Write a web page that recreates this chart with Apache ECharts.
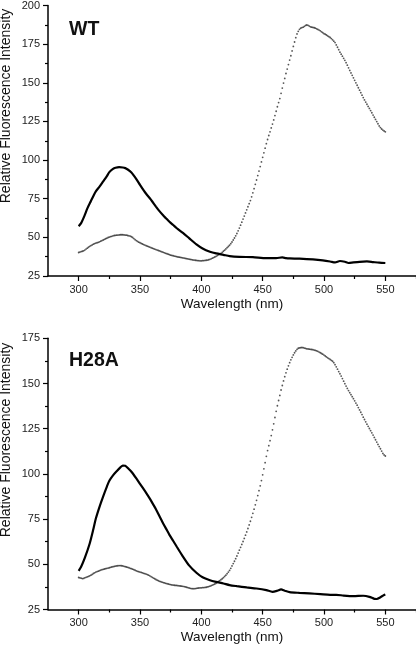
<!DOCTYPE html>
<html>
<head>
<meta charset="utf-8">
<script src="https://cdn.jsdelivr.net/npm/echarts@6/dist/echarts.min.js"></script>
<style>
html,body{margin:0;padding:0;background:#fff;}
#chart{width:416px;height:647px;}
</style>
</head>
<body>
<div id="chart"></div>
<script>
// ---- Data ----
const panelLabels = ['WT', 'H28A'];
const xTickLabels = [300, 350, 400, 450, 500, 550];
const xMinorTicks = [325, 375, 425, 475, 525, 575];
const dottedStart = 300; // wavelength of first dotted sample, 1 nm step

// WT: sparse dotted trace (1 nm samples, 300-550 nm)
const wtDotted = [
40.2,40.5,40.8,41.0,41.3,41.8,42.4,43.0,43.6,44.2,
44.7,45.1,45.6,46.0,46.3,46.5,46.8,47.1,47.5,47.9,
48.3,48.7,49.1,49.5,49.9,50.2,50.5,50.7,51.0,51.2,
51.3,51.4,51.5,51.6,51.7,51.7,51.7,51.6,51.5,51.4,
51.2,51.0,50.8,50.4,49.9,49.2,48.5,47.9,47.4,46.9,
46.5,46.1,45.7,45.3,45.0,44.6,44.3,44.0,43.7,43.3,
43.0,42.7,42.4,42.1,41.8,41.5,41.2,40.9,40.6,40.3,
40.0,39.7,39.4,39.1,38.8,38.5,38.3,38.1,37.9,37.7,
37.5,37.3,37.2,37.0,36.9,36.7,36.6,36.4,36.2,36.1,
35.9,35.7,35.6,35.4,35.3,35.2,35.1,35.0,34.9,34.8,
34.8,34.9,35.0,35.1,35.2,35.3,35.5,35.8,36.1,36.5,
36.9,37.3,37.7,38.2,38.7,39.2,39.7,40.3,41.0,41.7,
42.5,43.3,44.1,44.9,45.9,47.0,48.3,49.6,51.0,52.5,
54.2,56.0,57.9,59.8,61.8,63.8,65.8,67.8,69.8,71.8,
73.8,76.2,78.8,81.5,84.3,87.1,90.0,92.9,95.8,98.8,
101.8,104.7,107.7,110.6,113.3,115.9,118.3,120.8,123.3,126.0,
128.8,131.6,134.5,137.2,139.8,143.2,146.6,149.8,152.8,156.0,
158.9,161.8,164.7,167.5,170.6,173.5,176.4,179.2,181.6,183.3,
184.6,185.3,185.7,186.0,186.5,187.1,187.4,187.2,186.7,186.2,
186.0,185.8,185.6,185.3,184.9,184.5,184.1,183.6,183.0,182.4,
181.8,181.4,180.9,180.3,179.8,179.3,178.6,177.8,176.9,176.0,
174.5,173.0,171.4,169.8,168.5,167.2,165.8,164.5,163.0,161.4,
159.7,158.0,156.4,154.8,153.2,151.6,150.0,148.4,146.8,145.2,
143.6,142.0,140.4,138.9,137.5,136.1,134.7,133.4,132.0,130.6,
129.1,127.7,126.3,124.9,123.5,122.1,121.0,120.1,119.4,118.8,
118.3
];

// H28A: sparse dotted trace (1 nm samples, 300-550 nm)
const h28aDotted = [
42.7,42.5,42.3,42.1,42.2,42.5,42.8,43.1,43.3,43.6,
44.0,44.4,44.9,45.3,45.7,46.0,46.2,46.5,46.8,47.0,
47.2,47.4,47.6,47.8,47.9,48.1,48.3,48.5,48.7,48.8,
49.0,49.1,49.2,49.3,49.3,49.2,49.1,48.9,48.7,48.5,
48.3,48.1,47.8,47.6,47.3,47.0,46.7,46.4,46.1,45.9,
45.7,45.5,45.3,45.0,44.8,44.6,44.3,44.0,43.6,43.2,
42.8,42.4,42.0,41.6,41.2,40.9,40.6,40.4,40.1,39.9,
39.7,39.5,39.3,39.1,38.9,38.8,38.6,38.5,38.4,38.3,
38.3,38.2,38.1,38.0,37.9,37.8,37.7,37.5,37.3,37.1,
36.9,36.7,36.6,36.5,36.5,36.6,36.7,36.8,36.9,37.0,
37.0,37.1,37.1,37.2,37.3,37.5,37.7,37.9,38.2,38.5,
38.8,39.1,39.5,40.0,40.5,41.0,41.5,42.0,42.6,43.3,
44.0,44.8,45.7,46.6,47.8,49.1,50.4,51.7,53.1,54.6,
56.2,57.8,59.4,61.0,62.6,64.3,66.1,67.9,69.8,71.8,
73.8,76.0,78.2,80.5,82.9,85.4,88.0,90.7,93.4,96.3,
99.5,102.8,106.2,109.7,112.9,115.6,118.4,121.2,124.4,127.7,
131.2,134.6,137.7,140.6,143.4,146.4,148.9,151.4,153.8,155.9,
157.9,159.8,161.5,163.1,164.5,165.8,167.0,168.0,168.9,169.5,
169.7,169.8,169.9,169.8,169.6,169.4,169.2,169.1,169.0,168.9,
168.8,168.7,168.5,168.3,168.1,167.8,167.4,167.0,166.6,166.2,
165.7,165.2,164.7,164.2,163.8,163.3,162.8,162.3,161.5,160.4,
159.2,157.9,156.6,155.4,154.1,152.7,151.3,149.9,148.6,147.3,
146.1,144.9,143.8,142.7,141.6,140.4,139.2,138.0,136.7,135.4,
134.1,132.8,131.4,130.1,128.8,127.5,126.3,125.1,123.9,122.7,
121.5,120.2,118.9,117.6,116.3,115.1,113.9,112.6,111.3,110.5,
109.9
];

// Solid black traces
const wtSolidX = [300,302,305,307,310,312,314,317,320,323,325,328,330,333,336,338,340,343,345,347,350,353,355,358,360,363,365,369,371,374,377,380,385,390,396,401,407,412,418,423,431,442,453,461,466,469,472,480,491,499,505,509,513,517,520,524,529,535,540,545,550];
const wtSolidY = [57.2,59.2,64.5,68.6,73.5,76.8,79.8,82.8,86.2,89.6,92.2,94.3,95.0,95.4,95.2,94.8,93.9,92.0,89.9,87.7,84.0,80.4,78.2,75.3,73.2,69.9,67.8,64.1,62.5,60.1,58.0,55.9,52.9,49.5,45.4,42.8,40.7,39.6,38.7,37.9,37.4,37.2,36.6,36.6,37.0,36.6,36.4,36.2,35.7,35.1,34.4,33.8,34.7,34.2,33.4,33.8,34.2,34.4,34.0,33.6,33.4];
const h28aSolidX = [300,302,305,309,312,314,317,320,323,325,328,331,334,336,338,341,343,347,350,352,355,358,360,363,366,369,372,374,377,380,385,390,396,401,407,412,418,423,429,437,445,453,458,462,465,468,472,480,488,497,505,510,516,524,532,537,541,543,546,549,550];
const h28aSolidY = [46.4,48.6,53.5,61.5,69.5,75.3,81.8,87.6,93.0,96.2,99.2,101.5,103.6,104.6,104.5,102.6,101.2,97.5,94.5,92.5,89.5,86.3,84.0,80.5,76.5,72.4,68.8,66.3,63.0,59.7,54.3,49.4,45.3,42.8,41.2,40.3,39.4,38.5,37.9,37.2,36.6,35.7,34.8,35.4,36.1,35.4,34.6,34.2,33.9,33.5,33.1,33.1,32.7,32.4,32.6,32.0,30.9,30.8,31.8,33.0,33.3];

const yRanges = [[25, 200], [25, 175]];

// ---- Build chart ----
const FONT = '"Liberation Sans", Arial, Helvetica, sans-serif';
const chart = echarts.init(document.getElementById('chart'), null, {renderer: 'canvas'});
const axisColor = '#000';
const grids = [
  {left: 48, right: 0, top: 5, height: 271},
  {left: 48, right: 0, top: 338.3, height: 271.2}
];
const xAxes = [], yAxes = [], series = [];
function pairs(xs, ys) { return xs.map((x, i) => [x, ys[i]]); }
function dottedPairs(vals) { return vals.map((v, i) => [dottedStart + i, v]); }

[0, 1].forEach(g => {
  xAxes.push({
    type: 'value', gridIndex: g, min: 275, max: 575, interval: 25, position: 'bottom',
    axisLine: {show: true, onZero: false, lineStyle: {color: axisColor, width: 1.5}},
    axisTick: {show: true, length: 5, customValues: xTickLabels, lineStyle: {color: axisColor, width: 1.2}},
    axisLabel: {customValues: xTickLabels, fontSize: 11, color: '#222', margin: 8, fontFamily: FONT,
      formatter: v => (v % 50 === 0 && v >= 300 && v <= 550) ? String(v) : ''},
    splitLine: {show: false},
    name: 'Wavelength (nm)', nameLocation: 'middle', nameGap: 21,
    nameTextStyle: {fontSize: 13.5, color: '#111', fontFamily: FONT}
  });
  xAxes.push({
    type: 'value', gridIndex: g, min: 275, max: 575, interval: 25, position: 'bottom',
    axisLine: {show: false, onZero: false},
    axisTick: {show: true, length: 3, customValues: xMinorTicks, lineStyle: {color: axisColor, width: 1.2}},
    axisLabel: {show: false},
    splitLine: {show: false}
  });
  yAxes.push({
    type: 'value', gridIndex: g, min: yRanges[g][0], max: yRanges[g][1], interval: 25,
    axisLine: {show: true, onZero: false, lineStyle: {color: axisColor, width: 1.5}},
    axisTick: {show: true, length: 5, lineStyle: {color: axisColor, width: 1.2}},
    minorTick: {show: true, splitNumber: 2, length: 3, lineStyle: {color: axisColor, width: 1.2}},
    axisLabel: {fontSize: 11, color: '#222', margin: 8, fontFamily: FONT},
    splitLine: {show: false}
  });
});

const dottedSets = [wtDotted, h28aDotted];
const solidSets = [[wtSolidX, wtSolidY], [h28aSolidX, h28aSolidY]];
[0, 1].forEach(g => {
  series.push({
    type: 'scatter', xAxisIndex: g * 2, yAxisIndex: g,
    data: dottedPairs(dottedSets[g]),
    symbol: 'circle', symbolSize: 1.8,
    itemStyle: {color: '#2a2a2a'},
    silent: true, z: 2
  });
  series.push({
    type: 'line', xAxisIndex: g * 2, yAxisIndex: g,
    data: pairs(solidSets[g][0], solidSets[g][1]),
    showSymbol: false, symbol: 'none', smooth: 0.25,
    lineStyle: {color: '#000', width: 2.2},
    silent: true, z: 3
  });
});

const graphic = [
  {type: 'text', x: 69, y: 30, style: {text: panelLabels[0], font: 'bold 19.5px ' + FONT, fill: '#111', verticalAlign: 'middle', align: 'left'}},
  {type: 'text', x: 69, y: 361, style: {text: panelLabels[1], font: 'bold 19.5px ' + FONT, fill: '#111', verticalAlign: 'middle', align: 'left'}},
  {type: 'text', x: 6, y: 106, rotation: Math.PI / 2, style: {text: 'Relative Fluorescence Intensity', font: '14px ' + FONT, fill: '#111', align: 'center', verticalAlign: 'middle'}},
  {type: 'text', x: 6, y: 440, rotation: Math.PI / 2, style: {text: 'Relative Fluorescence Intensity', font: '14px ' + FONT, fill: '#111', align: 'center', verticalAlign: 'middle'}}
];

chart.setOption({
  animation: false,
  backgroundColor: '#fff',
  grid: grids,
  xAxis: xAxes,
  yAxis: yAxes,
  series: series,
  graphic: graphic
});
</script>
</body>
</html>
